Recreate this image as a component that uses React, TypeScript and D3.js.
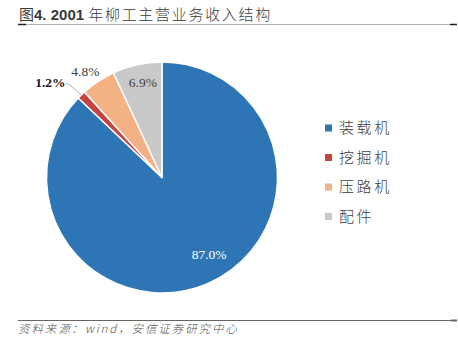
import { useEffect, useRef } from "react"
import * as d3 from "d3"

const categories = ["装载机", "挖掘机", "压路机", "配件"]
const shares = [87.0, 1.2, 4.8, 6.9]
const colors = ["#2E75B6", "#C5443F", "#F4B183", "#C9C9C9"]
const titleHead = "图"
const titleNum = "4. 2001 "
const titleText = "年柳工主营业务收入结构"
const source = "资料来源：wind，安信证券研究中心"

export default function App() {
  const svgRef = useRef<SVGSVGElement>(null)

  useEffect(() => {
    if (!svgRef.current) return
    const width = 458
    const height = 352
    const cx = 162
    const cy = 177.5
    const radius = 115.5

    const svg = d3.select(svgRef.current)
    svg.selectAll("*").remove()
    svg.attr("width", width).attr("height", height)

    // Title
    const t = svg
      .append("text")
      .attr("x", 19)
      .attr("y", 20)
      .attr("fill", "#3a3a3a")
      .style("font-size", "15px")
    t.append("tspan")
      .attr("font-family", "'Noto Sans CJK SC', sans-serif")
      .attr("font-weight", "400")
      .text(titleHead)
    t.append("tspan")
      .attr("font-family", "'Liberation Sans', Arial, sans-serif")
      .attr("font-weight", "bold")
      .text(titleNum)
    t.append("tspan")
      .attr("font-family", "'Noto Sans CJK SC', sans-serif")
      .attr("font-weight", "300")
      .attr("letter-spacing", "1.7px")
      .text(titleText)

    // Title rule
    svg.append("line").attr("x1", 18).attr("x2", 457).attr("y1", 24.5).attr("y2", 24.5)
      .attr("stroke", "#b0b0b0").attr("stroke-width", 1)
    svg.append("line").attr("x1", 18).attr("x2", 26).attr("y1", 24.5).attr("y2", 24.5)
      .attr("stroke", "#222").attr("stroke-width", 1.5)
    svg.append("line").attr("x1", 450).attr("x2", 457).attr("y1", 24.5).attr("y2", 24.5)
      .attr("stroke", "#222").attr("stroke-width", 1.5)

    // Pie
    const pie = d3.pie<number>().value((d) => d).sort(null)
    const arcs = pie(shares)
    const arc = d3.arc<d3.PieArcDatum<number>>().innerRadius(0).outerRadius(radius)
    const g = svg.append("g").attr("transform", `translate(${cx},${cy})`)

    g.selectAll("path")
      .data(arcs)
      .enter()
      .append("path")
      .attr("d", arc)
      .attr("fill", (_, i) => colors[i])
      .attr("stroke", "#fff")
      .attr("stroke-width", 1.5)
      .attr("stroke-linejoin", "round")

    // Labels: radius factor and nudges per slice
    const labelRadius = [0.77, 1, 1.14, 0.85]
    const nudge = [[12, -5], [0, 0], [-4, 3.5], [2, 1]]
    const labelFill = ["#fff", "#1a1a1a", "#404040", "#404040"]
    arcs.forEach((a, i) => {
      const mid = (a.startAngle + a.endAngle) / 2
      const r = radius * labelRadius[i]
      let x = Math.sin(mid) * r + nudge[i][0]
      let y = -Math.cos(mid) * r + nudge[i][1]
      if (i === 1) {
        // leader line from the slice edge to the label
        const ex = x
        const ey = y
        g.append("polyline")
          .attr("points", `${ex},${ey} ${ex - 13},${ey - 11} ${ex - 15},${ey - 11}`)
          .attr("fill", "none")
          .attr("stroke", "#999")
          .attr("stroke-width", 0.8)
        x = ex - 31
        y = ey - 12.5
      }
      g.append("text")
        .attr("x", x)
        .attr("y", y)
        .attr("dy", "0.35em")
        .attr("text-anchor", "middle")
        .attr("fill", labelFill[i])
        .attr("font-family", "'Liberation Serif', 'Times New Roman', serif")
        .attr("font-weight", i === 1 ? "bold" : "normal")
        .style("font-size", "13.5px")
        .text(`${shares[i].toFixed(1)}%`)
    })

    // Legend
    const legend = svg
      .selectAll(".legend")
      .data(categories)
      .enter()
      .append("g")
      .attr("class", "legend")
      .attr("transform", (_, i) => `translate(325,${128 + i * 29.5})`)
    legend
      .append("rect")
      .attr("x", 0)
      .attr("y", -3.5)
      .attr("width", 7)
      .attr("height", 7)
      .attr("fill", (_, i) => colors[i])
    legend
      .append("text")
      .attr("x", 14)
      .attr("y", 0)
      .attr("dy", "0.36em")
      .attr("fill", "#404040")
      .attr("font-family", "'Noto Sans CJK SC', sans-serif")
      .attr("font-weight", "300")
      .attr("letter-spacing", "2.6px")
      .style("font-size", "15px")
      .text((d) => d)

    // Footer rule and source
    svg.append("line").attr("x1", 18).attr("x2", 457).attr("y1", 320.5).attr("y2", 320.5)
      .attr("stroke", "#666").attr("stroke-width", 1.2)
    svg.append("line").attr("x1", 451).attr("x2", 457).attr("y1", 320.5).attr("y2", 320.5)
      .attr("stroke", "#666").attr("stroke-width", 2)
    svg.append("text")
      .attr("x", 18)
      .attr("y", 333)
      .attr("fill", "#555")
      .attr("font-family", "'Noto Sans CJK SC', sans-serif")
      .attr("font-style", "italic")
      .attr("font-weight", "300")
      .attr("letter-spacing", "1.9px")
      .style("font-size", "11.5px")
      .text(source)
  }, [])

  return (
    <div style={{ position: "absolute", left: 0, top: 0 }}>
      <svg ref={svgRef} style={{ display: "block" }} />
    </div>
  )
}
